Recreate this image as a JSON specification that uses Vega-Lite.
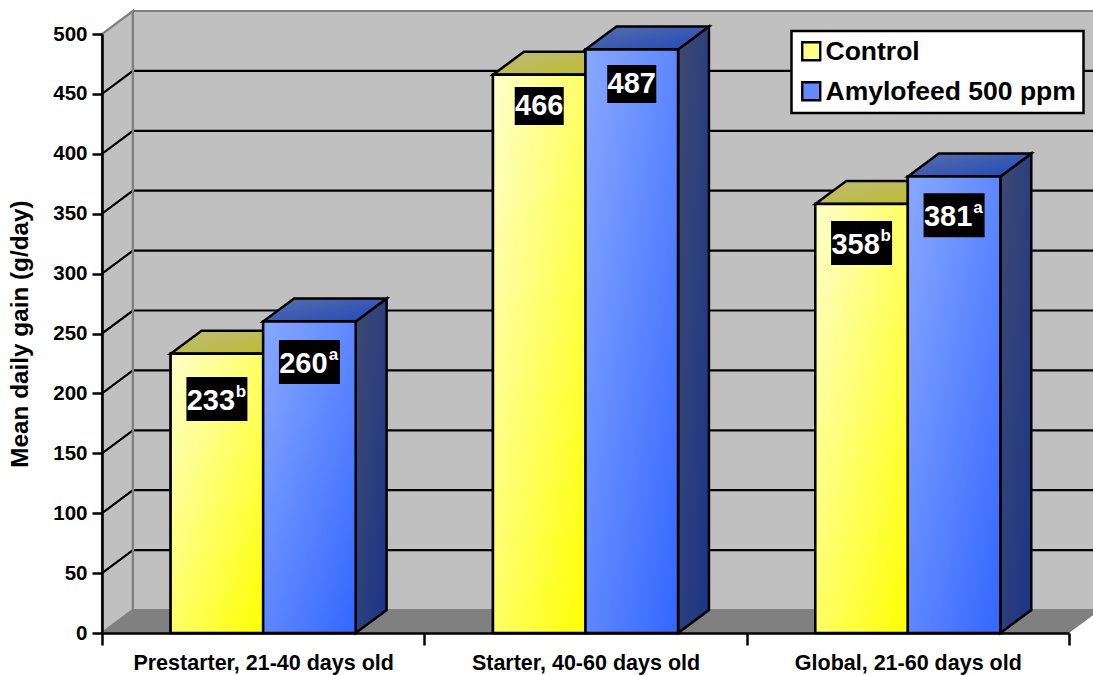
{
"$schema":"https://vega.github.io/schema/vega-lite/v6.json",
"width":967,"height":599,"autosize":"none",
"padding":{"left":102,"top":34,"right":24,"bottom":42},
"background":"white",
"config":{"view":{"stroke":null},"font":"Liberation Sans"},
"datasets":{
"bars":[
{"category":"Prestarter, 21-40 days old","series":"Control","value":233,"label":"233","sup":"b","labelAt":195.3},
{"category":"Prestarter, 21-40 days old","series":"Amylofeed 500 ppm","value":260,"label":"260","sup":"a","labelAt":226.2},
{"category":"Starter, 40-60 days old","series":"Control","value":466,"label":"466","sup":"","labelAt":439.8},
{"category":"Starter, 40-60 days old","series":"Amylofeed 500 ppm","value":487,"label":"487","sup":"","labelAt":458.2},
{"category":"Global, 21-60 days old","series":"Control","value":358,"label":"358","sup":"b","labelAt":325.5},
{"category":"Global, 21-60 days old","series":"Amylofeed 500 ppm","value":381,"label":"381","sup":"a","labelAt":348.8}
],
"walls":[
{"wall":"back","u":0.096,"low":19.2,"high":519.2},{"wall":"back","u":3.096,"low":19.2,"high":519.2},
{"wall":"left","u":0,"low":0,"high":500},{"wall":"left","u":0.096,"low":19.2,"high":519.2}
],
"floor":[
{"u":0,"low":0,"high":0},{"u":0.096,"low":0,"high":19.2},{"u":3,"low":0,"high":19.2},{"u":3.096,"low":19.2,"high":19.2}
],
"grid":[
{"g":50,"u":0,"v":50},{"g":50,"u":0.096,"v":69.2},{"g":50,"u":3.096,"v":69.2},
{"g":100,"u":0,"v":100},{"g":100,"u":0.096,"v":119.2},{"g":100,"u":3.096,"v":119.2},
{"g":150,"u":0,"v":150},{"g":150,"u":0.096,"v":169.2},{"g":150,"u":3.096,"v":169.2},
{"g":200,"u":0,"v":200},{"g":200,"u":0.096,"v":219.2},{"g":200,"u":3.096,"v":219.2},
{"g":250,"u":0,"v":250},{"g":250,"u":0.096,"v":269.2},{"g":250,"u":3.096,"v":269.2},
{"g":300,"u":0,"v":300},{"g":300,"u":0.096,"v":319.2},{"g":300,"u":3.096,"v":319.2},
{"g":350,"u":0,"v":350},{"g":350,"u":0.096,"v":369.2},{"g":350,"u":3.096,"v":369.2},
{"g":400,"u":0,"v":400},{"g":400,"u":0.096,"v":419.2},{"g":400,"u":3.096,"v":419.2},
{"g":450,"u":0,"v":450},{"g":450,"u":0.096,"v":469.2},{"g":450,"u":3.096,"v":469.2}
],
"tops":[
{"id":"c1","series":"Control","u":0.213,"low":233,"high":233},{"id":"c1","series":"Control","u":0.309,"low":233,"high":252.2},{"id":"c1","series":"Control","u":0.5,"low":233,"high":252.2},{"id":"c1","series":"Control","u":0.596,"low":252.2,"high":252.2},
{"id":"c2","series":"Control","u":1.213,"low":466,"high":466},{"id":"c2","series":"Control","u":1.309,"low":466,"high":485.2},{"id":"c2","series":"Control","u":1.5,"low":466,"high":485.2},{"id":"c2","series":"Control","u":1.596,"low":485.2,"high":485.2},
{"id":"c3","series":"Control","u":2.213,"low":358,"high":358},{"id":"c3","series":"Control","u":2.309,"low":358,"high":377.2},{"id":"c3","series":"Control","u":2.5,"low":358,"high":377.2},{"id":"c3","series":"Control","u":2.596,"low":377.2,"high":377.2},
{"id":"a1","series":"Amylofeed 500 ppm","u":0.5,"low":260,"high":260},{"id":"a1","series":"Amylofeed 500 ppm","u":0.596,"low":260,"high":279.2},{"id":"a1","series":"Amylofeed 500 ppm","u":0.787,"low":260,"high":279.2},{"id":"a1","series":"Amylofeed 500 ppm","u":0.883,"low":279.2,"high":279.2},
{"id":"a2","series":"Amylofeed 500 ppm","u":1.5,"low":487,"high":487},{"id":"a2","series":"Amylofeed 500 ppm","u":1.596,"low":487,"high":506.2},{"id":"a2","series":"Amylofeed 500 ppm","u":1.787,"low":487,"high":506.2},{"id":"a2","series":"Amylofeed 500 ppm","u":1.883,"low":506.2,"high":506.2},
{"id":"a3","series":"Amylofeed 500 ppm","u":2.5,"low":381,"high":381},{"id":"a3","series":"Amylofeed 500 ppm","u":2.596,"low":381,"high":400.2},{"id":"a3","series":"Amylofeed 500 ppm","u":2.787,"low":381,"high":400.2},{"id":"a3","series":"Amylofeed 500 ppm","u":2.883,"low":400.2,"high":400.2}
],
"sides":[
{"id":"a1","u":0.787,"low":0,"high":260},{"id":"a1","u":0.883,"low":19.2,"high":279.2},
{"id":"a2","u":1.787,"low":0,"high":487},{"id":"a2","u":1.883,"low":19.2,"high":506.2},
{"id":"a3","u":2.787,"low":0,"high":381},{"id":"a3","u":2.883,"low":19.2,"high":400.2}
]
},
"resolve":{"scale":{"x":"independent"},"axis":{"y":"independent"}},
"layer":[
{"layer":[
{"data":{"name":"walls"},"mark":{"type":"area","color":"#c0c0c0"},
 "encoding":{"detail":{"field":"wall"},"x":{"field":"u","type":"quantitative","scale":{"domain":[0,3],"nice":false,"zero":false},"axis":null},
 "y":{"field":"low","type":"quantitative","scale":{"domain":[0,500],"nice":false},"axis":null},"y2":{"field":"high"}}},
{"data":{"name":"floor"},"mark":{"type":"area","color":"#808080"},
 "encoding":{"x":{"field":"u","type":"quantitative","axis":null},
 "y":{"field":"low","type":"quantitative","axis":null},"y2":{"field":"high"}}},
{"data":{"name":"grid"},"mark":{"type":"line","color":"black","strokeWidth":2.2},
 "encoding":{"detail":{"field":"g"},"x":{"field":"u","type":"quantitative","axis":null},
 "y":{"field":"v","type":"quantitative","axis":null}}},
{"data":{"name":"walls"},"mark":{"type":"area","fillOpacity":0,"fill":"#c0c0c0","stroke":"#808080","strokeWidth":2.2},
 "encoding":{"detail":{"field":"wall"},"x":{"field":"u","type":"quantitative","axis":null},
 "y":{"field":"low","type":"quantitative","axis":null},"y2":{"field":"high"}}},
{"data":{"name":"sides"},"mark":{"type":"area","stroke":"black","strokeWidth":2.5,"strokeJoin":"miter",
 "fill":{"gradient":"linear","x1":0,"y1":0,"x2":1,"y2":1,"stops":[{"offset":0,"color":"#3f4a72"},{"offset":1,"color":"#1a3488"}]}},
 "encoding":{"detail":{"field":"id"},"x":{"field":"u","type":"quantitative","axis":null},
 "y":{"field":"low","type":"quantitative","axis":null},"y2":{"field":"high"}}},
{"data":{"name":"tops"},"transform":[{"filter":"datum.series == 'Control'"}],
 "mark":{"type":"area","stroke":"black","strokeWidth":2.5,
 "fill":{"gradient":"linear","x1":0,"y1":0,"x2":1,"y2":1,"stops":[{"offset":0,"color":"#bdbb80"},{"offset":1,"color":"#bdbd20"}]}},
 "encoding":{"detail":{"field":"id"},"x":{"field":"u","type":"quantitative","axis":null},
 "y":{"field":"low","type":"quantitative","axis":null},"y2":{"field":"high"}}},
{"data":{"name":"tops"},"transform":[{"filter":"datum.series != 'Control'"}],
 "mark":{"type":"area","stroke":"black","strokeWidth":2.5,
 "fill":{"gradient":"linear","x1":0,"y1":0,"x2":1,"y2":1,"stops":[{"offset":0,"color":"#5a6ea8"},{"offset":1,"color":"#1f48bb"}]}},
 "encoding":{"detail":{"field":"id"},"x":{"field":"u","type":"quantitative","axis":null},
 "y":{"field":"low","type":"quantitative","axis":null},"y2":{"field":"high"}}}
]},
{"data":{"name":"bars"},
 "resolve":{"axis":{"y":"independent"}},
 "encoding":{
  "x":{"field":"category","type":"nominal","sort":null,"title":null,
   "scale":{"paddingInner":0,"paddingOuter":0},
   "axis":{"zindex":1,"labelAngle":0,"tickBand":"extent","domainColor":"black","domainWidth":2.6,"tickColor":"black","tickWidth":2.5,"tickSize":12,"labelLimit":500,
    "labelFont":"Liberation Sans","labelFontWeight":"bold","labelFontSize":21.5,"labelColor":"black","labelPadding":7,"grid":false}},
  "xOffset":{"field":"series","type":"nominal","scale":{"domain":["Control","Amylofeed 500 ppm"],"paddingInner":0,"paddingOuter":0.742}}
 },
 "layer":[
 {"mark":{"type":"bar","stroke":"black","strokeWidth":2.5},
  "encoding":{
   "y":{"field":"value","type":"quantitative","stack":null,"title":"Mean daily gain (g/day)",
    "axis":{"zindex":1,"values":[0,50,100,150,200,250,300,350,400,450,500],"grid":false,"domainColor":"black","domainWidth":2.6,"tickColor":"black","tickWidth":2.5,"tickSize":10,
     "labelFont":"Liberation Sans","labelFontWeight":"bold","labelFontSize":20.5,"labelColor":"black","labelPadding":5,
     "titleFont":"Liberation Sans","titleFontWeight":"bold","titleFontSize":24.3,"titleColor":"black","titlePadding":20}},
   "color":{"field":"series","type":"nominal","scale":{"domain":["Control","Amylofeed 500 ppm"],"range":["#ffff88","#6688ff"]},
    "legend":{"title":null,"orient":"none","legendX":689.5,"legendY":-3,"fillColor":"white","strokeColor":"black","padding":7,"symbolType":"square","symbolSize":324,"symbolOpacity":1,"symbolOffset":-0.5,
     "labelFont":"Liberation Sans","labelFontWeight":"bold","labelFontSize":26.5,"labelColor":"black","labelOffset":1,"rowPadding":11,"labelLimit":400,
     "encoding":{"legend":{"strokeWidth":{"value":2.5}},"labels":{"dy":{"value":1}},
      "symbols":{"stroke":{"value":"black"},"strokeWidth":{"value":2.4},"fill":{"value":{"expr":"datum.value == 'Control' ? {gradient:'linear',x1:0,y1:0,x2:1,y2:1,stops:[{offset:0,color:'#ffffcc'},{offset:1,color:'#ffff00'}]} : {gradient:'linear',x1:0,y1:0,x2:1,y2:1,stops:[{offset:0,color:'#88a8ff'},{offset:1,color:'#3366ff'}]}"}}}}}}
  }},
 {"transform":[{"filter":"datum.series == 'Control'"}],
  "mark":{"type":"bar","stroke":"black","strokeWidth":2.5,
   "fill":{"gradient":"linear","x1":0,"y1":0,"x2":1,"y2":1,"stops":[{"offset":0,"color":"#ffffcc"},{"offset":1,"color":"#ffff00"}]}},
  "encoding":{"y":{"field":"value","type":"quantitative","stack":null,"axis":null}}},
 {"transform":[{"filter":"datum.series != 'Control'"}],
  "mark":{"type":"bar","stroke":"black","strokeWidth":2.5,
   "fill":{"gradient":"linear","x1":0,"y1":0,"x2":1,"y2":1,"stops":[{"offset":0,"color":"#88a8ff"},{"offset":1,"color":"#3366ff"}]}},
  "encoding":{"y":{"field":"value","type":"quantitative","stack":null,"axis":null}}},
 {"transform":[{"filter":"datum.sup != ''"}],
  "mark":{"type":"rect","color":"black","width":61,"height":44},
  "encoding":{"y":{"field":"labelAt","type":"quantitative","axis":null}}},
 {"transform":[{"filter":"datum.sup == ''"}],
  "mark":{"type":"rect","color":"black","width":49,"height":38},
  "encoding":{"y":{"field":"labelAt","type":"quantitative","axis":null}}},
 {"transform":[{"filter":"datum.sup != ''"}],
  "mark":{"type":"text","color":"white","font":"Liberation Sans","fontWeight":"bold","fontSize":29,"dx":-6,"dy":2,"baseline":"middle"},
  "encoding":{"y":{"field":"labelAt","type":"quantitative","axis":null},"text":{"field":"label"}}},
 {"transform":[{"filter":"datum.sup == ''"}],
  "mark":{"type":"text","color":"white","font":"Liberation Sans","fontWeight":"bold","fontSize":29,"dy":0,"baseline":"middle"},
  "encoding":{"y":{"field":"labelAt","type":"quantitative","axis":null},"text":{"field":"label"}}},
 {"transform":[{"filter":"datum.sup != ''"}],
  "mark":{"type":"text","color":"white","font":"Liberation Sans","fontWeight":"bold","fontSize":17,"dx":24,"dy":-7,"baseline":"middle"},
  "encoding":{"y":{"field":"labelAt","type":"quantitative","axis":null},"text":{"field":"sup"}}}
 ]}
]
}
